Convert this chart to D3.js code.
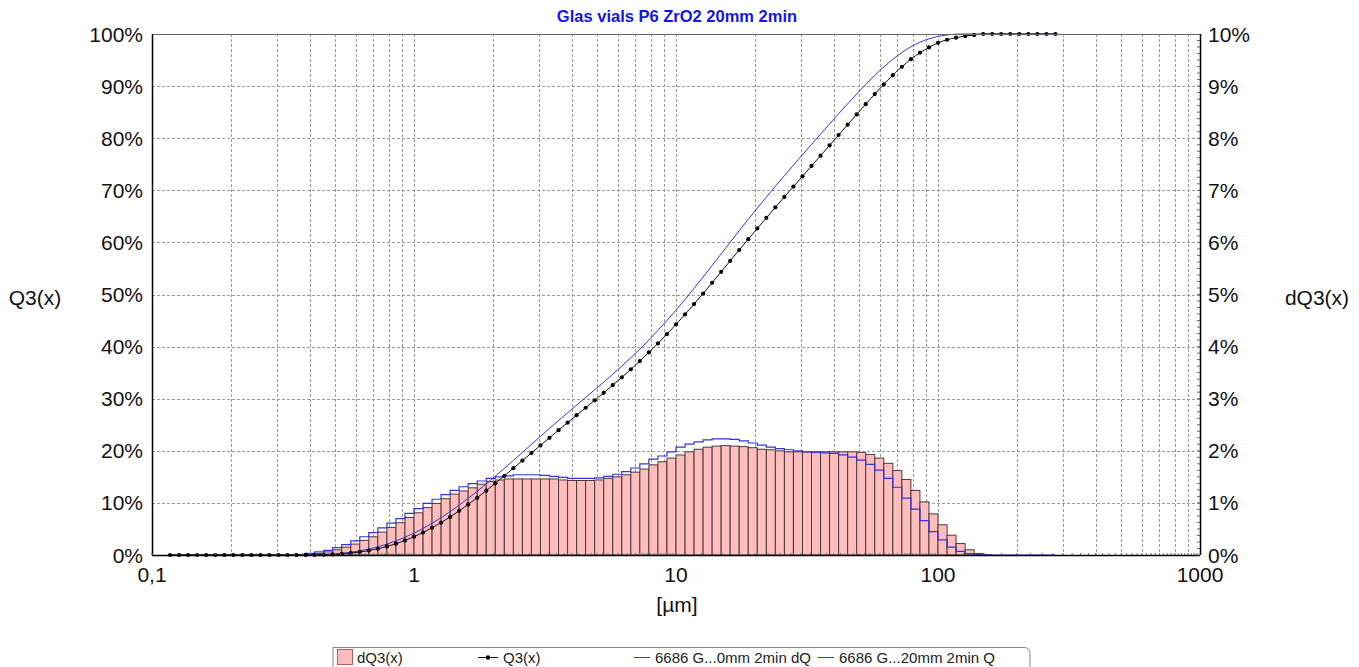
<!DOCTYPE html>
<html>
<head>
<meta charset="utf-8">
<script src="https://cdn.jsdelivr.net/npm/d3@7"></script>
<style>
  body { margin: 0; background: #fff; }
  svg text { font-family: Arial, "Liberation Sans", sans-serif; }
</style>
</head>
<body>
<svg id="chart" width="1359" height="667"></svg>
<script>
// Particle size classes (upper/lower edges, µm) - 29 classes per decade
const sizes = [
  0.1172, 0.1269, 0.1374, 0.1487, 0.1610, 0.1743, 0.1887, 0.2043, 0.2212, 0.2395,
  0.2593, 0.2807, 0.3039, 0.3290, 0.3562, 0.3857, 0.4175, 0.4520, 0.4894, 0.5298,
  0.5736, 0.6210, 0.6723, 0.7279, 0.7880, 0.8532, 0.9237, 1.000, 1.083, 1.172,
  1.269, 1.374, 1.487, 1.610, 1.743, 1.887, 2.043, 2.212, 2.395, 2.593,
  2.807, 3.039, 3.290, 3.562, 3.857, 4.175, 4.520, 4.894, 5.298, 5.736,
  6.210, 6.723, 7.279, 7.880, 8.532, 9.237, 10.00, 10.83, 11.72, 12.69,
  13.74, 14.87, 16.10, 17.43, 18.87, 20.43, 22.12, 23.95, 25.93, 28.07,
  30.39, 32.90, 35.62, 38.57, 41.75, 45.20, 48.94, 52.98, 57.36, 62.10,
  67.23, 72.79, 78.80, 85.32, 92.37, 100.0, 108.3, 117.2, 126.9, 137.4,
  148.7, 161.0, 174.3, 188.7, 204.3, 221.2, 239.5, 259.3, 280.7
];

// dQ3(x) per class in % (right axis), one value per class between two edges
const dQ3 = [
  0, 0, 0, 0, 0, 0, 0, 0, 0, 0, 0, 0, 0, 0,
  0.005, 0.015, 0.03, 0.06, 0.10, 0.15, 0.21, 0.28, 0.35, 0.44,
  0.53, 0.62, 0.72, 0.81, 0.91, 0.99, 1.08, 1.17, 1.23, 1.29,
  1.36, 1.41, 1.44, 1.46, 1.46, 1.46, 1.46, 1.46, 1.46, 1.44,
  1.43, 1.43, 1.43, 1.44, 1.47, 1.50, 1.54, 1.59, 1.65, 1.73,
  1.79, 1.86, 1.92, 1.98, 2.03, 2.07, 2.09, 2.10, 2.09, 2.08,
  2.06, 2.03, 2.02, 2.00, 1.98, 1.98, 1.98, 1.98, 1.98, 1.98,
  1.98, 1.98, 1.97, 1.93, 1.86, 1.76, 1.62, 1.45, 1.24, 1.02,
  0.79, 0.58, 0.38, 0.22, 0.10, 0.03, 0.005,
  0, 0, 0, 0, 0, 0, 0
];

// comparison sample "6686 G...0mm 2min dQ" (step line, right axis)
const refDQ = [
  0, 0, 0, 0, 0, 0, 0, 0, 0, 0, 0, 0, 0, 0,
  0.01, 0.03, 0.06, 0.09, 0.14, 0.20, 0.27, 0.35, 0.43, 0.52,
  0.61, 0.70, 0.80, 0.89, 0.99, 1.07, 1.16, 1.24, 1.31, 1.37,
  1.42, 1.47, 1.50, 1.52, 1.54, 1.54, 1.54, 1.53, 1.51, 1.49,
  1.47, 1.47, 1.47, 1.48, 1.51, 1.55, 1.60, 1.67, 1.75, 1.84,
  1.90, 1.98, 2.07, 2.13, 2.17, 2.21, 2.23, 2.23, 2.22, 2.19,
  2.15, 2.11, 2.07, 2.04, 2.02, 2.00, 1.98, 1.97, 1.96, 1.95,
  1.92, 1.88, 1.82, 1.74, 1.63, 1.47, 1.30, 1.09, 0.88, 0.66,
  0.45, 0.29, 0.15, 0.07, 0.025, 0.01,
  0, 0, 0, 0, 0, 0, 0, 0
];

// Q3(x) cumulative in % at every class edge (left axis)
const Q3 = [
  0, 0, 0, 0, 0, 0, 0, 0, 0, 0, 0, 0, 0, 0, 0,
  0.01, 0.02, 0.05, 0.11, 0.21, 0.36, 0.57, 0.85, 1.20, 1.64,
  2.17, 2.79, 3.51, 4.32, 5.23, 6.22, 7.30, 8.47, 9.70, 10.99,
  12.35, 13.76, 15.20, 16.66, 18.12, 19.58, 21.04, 22.50, 23.96, 25.40,
  26.83, 28.26, 29.69, 31.13, 32.60, 34.10, 35.64, 37.23, 38.88, 40.61,
  42.40, 44.26, 46.18, 48.16, 50.19, 52.26, 54.35, 56.45, 58.54, 60.62,
  62.68, 64.71, 66.73, 68.73, 70.71, 72.69, 74.67, 76.65, 78.63, 80.61,
  82.59, 84.57, 86.54, 88.47, 90.33, 92.09, 93.71, 95.16, 96.40, 97.42,
  98.3, 98.9, 99.3, 99.6, 99.8, 100,
  100, 100, 100, 100, 100, 100, 100, 100
];

// comparison sample "6686 G...20mm 2min Q" (smooth line, left axis)
const refQ = [
  0, 0, 0, 0, 0, 0, 0, 0, 0, 0, 0, 0, 0, 0, 0,
  0.01, 0.04, 0.10, 0.19, 0.33, 0.53, 0.80, 1.15, 1.58, 2.10,
  2.71, 3.41, 4.21, 5.10, 6.09, 7.16, 8.32, 9.56, 10.87, 12.24,
  13.66, 15.13, 16.63, 18.15, 19.69, 21.23, 22.77, 24.30, 25.81, 27.30,
  28.77, 30.24, 31.71, 33.19, 34.70, 36.25, 37.85, 39.52, 41.27, 43.11,
  45.01, 46.99, 49.06, 51.19, 53.36, 55.57, 57.80, 60.03, 62.25, 64.44,
  66.59, 68.70, 70.77, 72.81, 74.83, 76.83, 78.81, 80.78, 82.74, 84.69,
  86.61, 88.49, 90.31, 92.05, 93.68, 95.15, 96.45, 97.54, 98.42, 99.08,
  99.53, 99.82, 99.97, 100,
  100, 100, 100, 100, 100, 100, 100, 100, 100, 100
];

const xTicks = [0.1, 1, 10, 100, 1000];
const xTickLabels = ["0,1", "1", "10", "100", "1000"];
const leftTicks = [0, 10, 20, 30, 40, 50, 60, 70, 80, 90, 100];
const rightTicks = [0, 1, 2, 3, 4, 5, 6, 7, 8, 9, 10];

const title = "Glas vials P6 ZrO2 20mm 2min";
const legendLabels = ["dQ3(x)", "Q3(x)", "6686 G...0mm 2min dQ", "6686 G...20mm 2min Q"];

// colours
const barFill = "#ffbdbd";
const barStroke = "#4a3a3a";
const blue = "#3535d6";

function drawChart() {
  const svg = d3.select("#chart");
  const left = 152, right = 1200, top = 34, bottom = 555;

  const x = d3.scaleLog().domain([0.1, 1000]).range([left, right]);
  const yL = d3.scaleLinear().domain([0, 100]).range([bottom, top]);
  const yR = d3.scaleLinear().domain([0, 10]).range([bottom, top]);

  // grid: vertical lines at 1..9 of each decade, horizontal each 10 %
  const gridX = [];
  [0.1, 1, 10, 100].forEach(d => { for (let m = 1; m <= 9; m++) gridX.push(d * m); });
  const grid = svg.append("g")
    .attr("stroke", "#9a9a9a")
    .attr("stroke-width", 1)
    .attr("stroke-dasharray", "3,2");
  grid.selectAll("line.gx")
    .data(gridX.filter(v => v > 0.1))
    .join("line")
      .attr("class", "gx")
      .attr("x1", d => Math.round(x(d)) + 0.5)
      .attr("x2", d => Math.round(x(d)) + 0.5)
      .attr("y1", top).attr("y2", bottom);
  grid.selectAll("line.gy")
    .data(leftTicks.filter(v => v > 0 && v < 100))
    .join("line")
      .attr("class", "gy")
      .attr("x1", left).attr("x2", right)
      .attr("y1", d => Math.round(yL(d)) + 0.5)
      .attr("y2", d => Math.round(yL(d)) + 0.5);

  // histogram bars dQ3
  const bins = dQ3.map((v, i) => ({ lo: sizes[i], hi: sizes[i + 1], v: v }));
  svg.append("g")
    .selectAll("rect")
    .data(bins.filter(d => d.v > 0))
    .join("rect")
      .attr("x", d => x(d.lo))
      .attr("y", d => yR(d.v))
      .attr("width", d => x(d.hi) - x(d.lo))
      .attr("height", d => yR(0) - yR(d.v))
      .attr("fill", barFill)
      .attr("stroke", barStroke)
      .attr("stroke-width", 1);

  // comparison dQ as step line
  const stepPts = refDQ.map((v, i) => [sizes[i], v]);
  stepPts.push([sizes[sizes.length - 1], 0]);
  const step = d3.line()
    .x(d => x(d[0]))
    .y(d => yR(d[1]))
    .curve(d3.curveStepAfter);
  svg.append("path")
    .datum(stepPts)
    .attr("d", step)
    .attr("fill", "none")
    .attr("stroke", blue)
    .attr("stroke-width", 1.2);

  // comparison Q as smooth line
  const cum = d3.line()
    .x(d => x(d[0]))
    .y(d => yL(d[1]))
    .curve(d3.curveMonotoneX);
  svg.append("path")
    .datum(refQ.map((v, i) => [sizes[i], v]))
    .attr("d", cum)
    .attr("fill", "none")
    .attr("stroke", blue)
    .attr("stroke-width", 1);

  // Q3 line with dots
  const q3pts = Q3.map((v, i) => [sizes[i], v]);
  svg.append("path")
    .datum(q3pts)
    .attr("d", cum)
    .attr("fill", "none")
    .attr("stroke", "#111")
    .attr("stroke-width", 1);
  svg.append("g")
    .selectAll("circle")
    .data(q3pts)
    .join("circle")
      .attr("cx", d => x(d[0]))
      .attr("cy", d => yL(d[1]))
      .attr("r", 2.1)
      .attr("fill", "#000");

  // frame
  svg.append("line").attr("x1", left).attr("x2", right).attr("y1", top + 0.5).attr("y2", top + 0.5)
    .attr("stroke", "#666");
  svg.append("line").attr("x1", left).attr("x2", right).attr("y1", bottom + 0.5).attr("y2", bottom + 0.5)
    .attr("stroke", "#000").attr("stroke-width", 1.5);
  svg.append("line").attr("x1", left + 0.5).attr("x2", left + 0.5).attr("y1", top).attr("y2", bottom)
    .attr("stroke", "#000").attr("stroke-width", 1.5);
  svg.append("line").attr("x1", right + 0.5).attr("x2", right + 0.5).attr("y1", top).attr("y2", bottom)
    .attr("stroke", "#000").attr("stroke-width", 1.5);

  // small inner ticks on bottom and right axis
  const minorX = [];
  [0.1, 1, 10, 100].forEach(d => { for (let m = 1; m < 10; m += 0.25) minorX.push(d * m); });
  svg.append("g").attr("stroke", "#666")
    .selectAll("line")
    .data(minorX)
    .join("line")
      .attr("x1", d => x(d)).attr("x2", d => x(d))
      .attr("y1", bottom).attr("y2", bottom - 2);
  svg.append("g").attr("stroke", "#666")
    .selectAll("line")
    .data(d3.range(0, 10, 0.125))
    .join("line")
      .attr("x1", right).attr("x2", right - 3)
      .attr("y1", d => yR(d)).attr("y2", d => yR(d));

  // axis labels
  svg.append("g")
    .selectAll("text")
    .data(leftTicks)
    .join("text")
      .attr("x", 143)
      .attr("y", d => yL(d) + 7.5)
      .attr("text-anchor", "end")
      .attr("font-size", 21)
      .attr("fill", "#111")
      .text(d => d + "%");
  svg.append("g")
    .selectAll("text")
    .data(rightTicks)
    .join("text")
      .attr("x", 1208)
      .attr("y", d => yR(d) + 7.5)
      .attr("font-size", 21)
      .attr("fill", "#111")
      .text(d => d + "%");
  svg.append("g")
    .selectAll("text")
    .data(xTicks)
    .join("text")
      .attr("x", d => x(d))
      .attr("y", 582)
      .attr("text-anchor", "middle")
      .attr("font-size", 21)
      .attr("fill", "#111")
      .text((d, i) => xTickLabels[i]);

  svg.append("text").attr("x", 677).attr("y", 612).attr("text-anchor", "middle")
    .attr("font-size", 21).attr("fill", "#111").text("[µm]");
  svg.append("text").attr("x", 35).attr("y", 305).attr("text-anchor", "middle")
    .attr("font-size", 21).attr("fill", "#111").text("Q3(x)");
  svg.append("text").attr("x", 1317).attr("y", 305).attr("text-anchor", "middle")
    .attr("font-size", 21).attr("fill", "#111").text("dQ3(x)");

  // title
  svg.append("text").attr("x", 677).attr("y", 22).attr("text-anchor", "middle")
    .attr("font-size", 16.5).attr("font-weight", "bold").attr("fill", "#1414e6")
    .text(title);

  // legend
  const lg = svg.append("g").attr("font-size", 15).attr("fill", "#222");
  lg.append("path")
    .attr("d", "M333,668 L333,647.5 L1024,647.5 Q1030,647.5 1030,653.5 L1030,668")
    .attr("fill", "none").attr("stroke", "#888");
  lg.append("rect").attr("x", 337.5).attr("y", 649.5).attr("width", 15).attr("height", 15)
    .attr("fill", barFill).attr("stroke", "#b06060");
  lg.append("text").attr("x", 357).attr("y", 663).text(legendLabels[0]);
  lg.append("line").attr("x1", 478).attr("x2", 498).attr("y1", 657.5).attr("y2", 657.5).attr("stroke", "#111");
  lg.append("circle").attr("cx", 488).attr("cy", 657.5).attr("r", 2.2).attr("fill", "#000");
  lg.append("text").attr("x", 503).attr("y", 663).text(legendLabels[1]);
  lg.append("line").attr("x1", 634).attr("x2", 650).attr("y1", 657.5).attr("y2", 657.5).attr("stroke", blue);
  lg.append("text").attr("x", 655).attr("y", 663).text(legendLabels[2]);
  lg.append("line").attr("x1", 818).attr("x2", 834).attr("y1", 657.5).attr("y2", 657.5).attr("stroke", blue);
  lg.append("text").attr("x", 839).attr("y", 663).text(legendLabels[3]);
}

window.onload = () => {
  drawChart();
};
</script>
</body>
</html>
